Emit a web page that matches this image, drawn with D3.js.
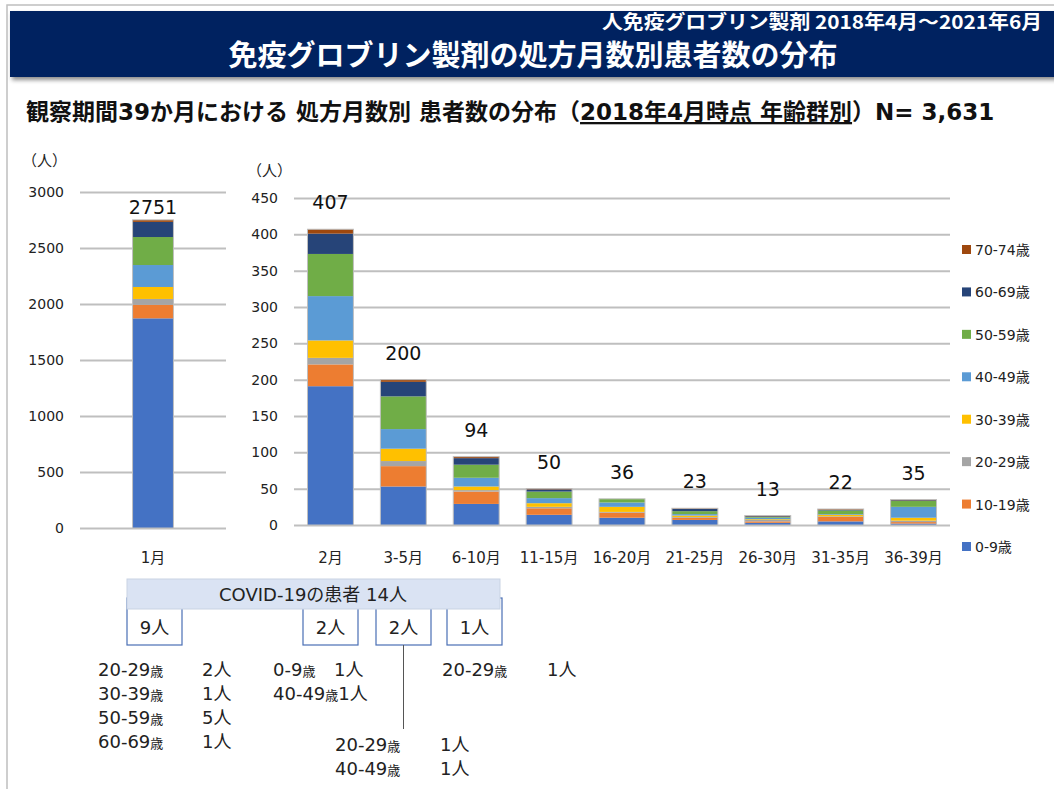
<!DOCTYPE html>
<html>
<head>
<meta charset="utf-8">
<script src="https://cdn.jsdelivr.net/npm/d3@7"></script>
<style>
  body { margin: 0; background: #fff; }
  svg text { font-family: "DejaVu Sans", "Noto Sans CJK JP", sans-serif; }
  svg text.jp { font-family: "Noto Sans CJK JP", sans-serif; }
</style>
</head>
<body>
<svg id="chart" width="1054" height="789"></svg>
<script>
// age groups, bottom to top
var ageGroups = ["0-9歳", "10-19歳", "20-29歳", "30-39歳", "40-49歳", "50-59歳", "60-69歳", "70-74歳"];
var ageColors = ["#4472C4", "#ED7D31", "#A5A5A5", "#FFC000", "#5B9BD5", "#70AD47", "#264478", "#9E480E"];

// left chart (1 month)
var leftCats = ["1月"];
var leftTotals = [2751];
var left0_9 = [1872], left10_19 = [121], left20_29 = [52], left30_39 = [107],
    left40_49 = [196], left50_59 = [250], left60_69 = [135], left70_74 = [18];
var leftTicks = [0, 500, 1000, 1500, 2000, 2500, 3000];

// right chart (2 months and more)
var rightCats = ["2月", "3-5月", "6-10月", "11-15月", "16-20月", "21-25月", "26-30月", "31-35月", "36-39月"];
var rightTotals = [407, 200, 94, 50, 36, 23, 13, 22, 35];
var r0_9   = [191, 53, 29, 14, 10, 7, 3, 5, 2];
var r10_19 = [30, 28, 17, 9, 7, 3, 2, 6, 2];
var r20_29 = [9, 7, 2, 2, 1, 1, 2, 1, 2];
var r30_39 = [24, 17, 5, 5, 7, 2, 1, 2, 4];
var r40_49 = [61, 27, 12, 7, 6, 2, 2, 1, 15];
var r50_59 = [58, 45, 18, 9, 5, 4, 1, 5, 8];
var r60_69 = [28, 20, 9, 3, 0, 3, 1, 1, 1];
var r70_74 = [6, 3, 2, 1, 0, 1, 1, 1, 1];
var rightTicks = [0, 50, 100, 150, 200, 250, 300, 350, 400, 450];

// covid annotation
var covidTitle = "COVID-19の患者 14人";
var covidCounts = ["9人", "2人", "2人", "1人"];

var svg = d3.select("#chart");

function rows(cats, series) {
  return cats.map(function(c, i) {
    var o = {cat: c};
    ageGroups.forEach(function(g, k) { o[g] = series[k][i]; });
    return o;
  });
}

// frame + banner
svg.append("rect").attr("x", 7).attr("y", 5).attr("width", 1060).attr("height", 800)
  .attr("fill", "none").attr("stroke", "#BFBFBF").attr("stroke-width", 1.5);
var defs = svg.append("defs");
var f = defs.append("filter").attr("id", "shadow").attr("x", "-5%").attr("y", "-20%").attr("width", "110%").attr("height", "150%");
f.append("feDropShadow").attr("dx", 2).attr("dy", 3).attr("stdDeviation", 2).attr("flood-color", "#000").attr("flood-opacity", 0.45);
svg.append("rect").attr("x", 10).attr("y", 11).attr("width", 1060).attr("height", 66)
  .attr("fill", "#002060").attr("filter", "url(#shadow)");
svg.append("text").attr("class", "jp").attr("x", 1042).attr("y", 29).attr("text-anchor", "end")
  .attr("fill", "#fff").attr("font-size", 19).attr("font-weight", "bold")
  .attr("textLength", 440).attr("lengthAdjust", "spacingAndGlyphs")
  .text("人免疫グロブリン製剤 2018年4月～2021年6月");
svg.append("text").attr("class", "jp").attr("x", 533).attr("y", 66).attr("text-anchor", "middle")
  .attr("fill", "#fff").attr("font-size", 29).attr("font-weight", "bold")
  .text("免疫グロブリン製剤の処方月数別患者数の分布");

// subtitle
var sub = svg.append("text").attr("x", 26).attr("y", 120).attr("font-size", 23).attr("font-weight", "bold").attr("fill", "#111");
sub.append("tspan").text("観察期間39か月における 処方月数別 患者数の分布（");
sub.append("tspan").attr("text-decoration", "underline").text("2018年4月時点 年齢群別");
sub.append("tspan").text("）N= 3,631");

// generic stacked chart
function drawChart(cfg) {
  var data = rows(cfg.cats, cfg.series);
  var stack = d3.stack().keys(ageGroups)(data);
  var x = d3.scaleBand().domain(cfg.cats).range([cfg.x0, cfg.x1]).paddingInner(cfg.pad).paddingOuter(cfg.pad / 2);
  var y = d3.scaleLinear().domain([0, cfg.max]).range([cfg.y0, cfg.y1]);
  var g = svg.append("g");

  var yAxis = d3.axisLeft(y).tickValues(cfg.ticks).tickFormat(d3.format("d"))
    .tickSize(-(cfg.x1 - cfg.x0)).tickPadding(16);
  var ya = g.append("g").attr("transform", "translate(" + cfg.x0 + ",0)").call(yAxis);
  ya.select(".domain").remove();
  ya.selectAll(".tick line").attr("stroke", "#BFBFBF").attr("stroke-width", 2);
  ya.selectAll(".tick text").attr("font-size", 14).attr("fill", "#222")
    .style("font-family", "'DejaVu Sans', sans-serif");

  g.selectAll("g.layer").data(stack).enter().append("g")
    .attr("fill", function(d, i) { return ageColors[i]; })
    .selectAll("rect").data(function(d) { return d; }).enter().append("rect")
    .attr("x", function(d) { return x(d.data.cat); })
    .attr("width", x.bandwidth())
    .attr("y", function(d) { return y(d[1]); })
    .attr("height", function(d) { return Math.max(0, y(d[0]) - y(d[1])); });
  // thin grey outline around each bar
  g.selectAll("rect.outline").data(data).enter().append("rect")
    .attr("x", function(d) { return x(d.cat); })
    .attr("width", x.bandwidth())
    .attr("y", function(d, i) { return y(cfg.totals[i]); })
    .attr("height", function(d, i) { return y(0) - y(cfg.totals[i]); })
    .attr("fill", "none").attr("stroke", "#BFBFBF").attr("stroke-width", 1);

  g.selectAll("text.total").data(cfg.totals).enter().append("text")
    .attr("x", function(d, i) { return x(cfg.cats[i]) + x.bandwidth() / 2; })
    .attr("y", function(d) { return y(d) - cfg.labelGap; })
    .attr("text-anchor", "middle").attr("font-size", 19).attr("fill", "#111")
    .text(function(d) { return d; });

  g.selectAll("text.cat").data(cfg.cats).enter().append("text")
    .attr("x", function(d) { return x(d) + x.bandwidth() / 2; })
    .attr("y", 563).attr("text-anchor", "middle").attr("font-size", 15).attr("fill", "#222")
    .text(function(d) { return d; });

  g.append("text").attr("class", "jp").attr("x", cfg.unitX).attr("y", cfg.unitY).attr("font-size", 15).attr("fill", "#222").text("（人）");
}

drawChart({cats: leftCats, totals: leftTotals,
  series: [left0_9, left10_19, left20_29, left30_39, left40_49, left50_59, left60_69, left70_74],
  x0: 80, x1: 226, pad: 0.72, y0: 528, y1: 192, max: 3000, ticks: leftTicks, unitX: 22, unitY: 166, labelGap: 6});

drawChart({cats: rightCats, totals: rightTotals,
  series: [r0_9, r10_19, r20_29, r30_39, r40_49, r50_59, r60_69, r70_74],
  x0: 294, x1: 950, pad: 0.37, y0: 525, y1: 198, max: 450, ticks: rightTicks, unitX: 247, unitY: 176, labelGap: 20});

// legend, top item is 70-74
var leg = svg.append("g");
var legItems = ageGroups.slice().reverse();
var legY = d3.scalePoint().domain(legItems).range([250, 547]);
legItems.forEach(function(name) {
  var k = ageGroups.indexOf(name);
  var yy = legY(name);
  leg.append("rect").attr("x", 962).attr("y", yy - 5).attr("width", 9).attr("height", 9).attr("fill", ageColors[k]);
  leg.append("text").attr("x", 975).attr("y", yy + 5).attr("font-size", 14).attr("fill", "#222").text(name);
});

// COVID annotation
var ann = svg.append("g");
var boxX = [127, 303, 376, 447];
boxX.forEach(function(bx, i) {
  ann.append("rect").attr("x", bx).attr("y", 598).attr("width", 55).attr("height", 47)
    .attr("fill", "#fff").attr("stroke", "#4A6FB5").attr("stroke-width", 1.2);
  ann.append("text").attr("x", bx + 27.5).attr("y", 634).attr("text-anchor", "middle")
    .attr("font-size", 18).attr("fill", "#222").text(covidCounts[i]);
});
ann.append("rect").attr("x", 127).attr("y", 579).attr("width", 373).attr("height", 30)
  .attr("fill", "#DAE3F3").attr("stroke", "#C9D3E3").attr("stroke-width", 1);
ann.append("text").attr("x", 313).attr("y", 601).attr("text-anchor", "middle")
  .attr("font-size", 18).attr("fill", "#222").text(covidTitle);
ann.append("line").attr("x1", 403.5).attr("x2", 403.5).attr("y1", 645).attr("y2", 729)
  .attr("stroke", "#555").attr("stroke-width", 1);

function ageLine(x, y, age, cnt, cntX) {
  var t = ann.append("text").attr("x", x).attr("y", y).attr("font-size", 18).attr("fill", "#222");
  t.append("tspan").text(age);
  t.append("tspan").attr("font-size", 13).text("歳");
  if (cntX == null) t.append("tspan").text(cnt);
  else ann.append("text").attr("x", cntX).attr("y", y).attr("font-size", 18).attr("fill", "#222").text(cnt);
}
ageLine(98, 676, "20-29", "2人", 202);
ageLine(98, 700, "30-39", "1人", 202);
ageLine(98, 724, "50-59", "5人", 202);
ageLine(98, 748, "60-69", "1人", 202);
ageLine(273, 676, "0-9", "1人", 334);
ageLine(273, 700, "40-49", "1人", null);
ageLine(442, 676, "20-29", "1人", 547);
ageLine(335, 751, "20-29", "1人", 440);
ageLine(335, 775, "40-49", "1人", 440);
</script>
</body>
</html>
